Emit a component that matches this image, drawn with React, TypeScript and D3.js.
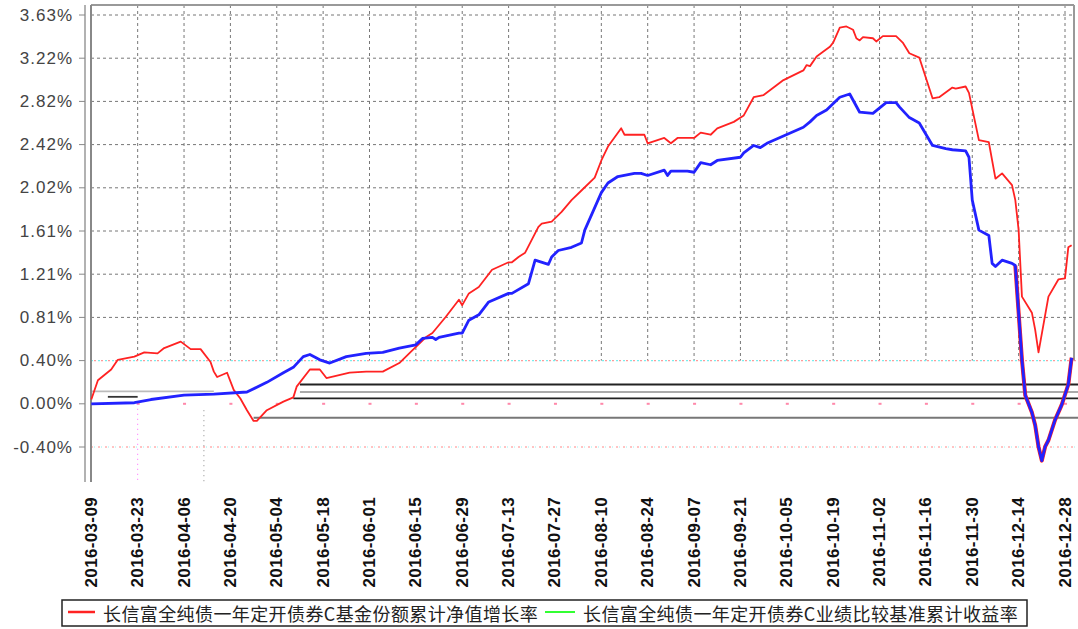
import React from "react";
import * as d3 from "d3";

// fund cumulative NAV growth (red) and benchmark (blue), in %
const redDates = [
  "2016-03-09", "2016-03-11", "2016-03-15", "2016-03-17", "2016-03-22", "2016-03-25", "2016-03-29", "2016-03-31",
  "2016-04-05", "2016-04-08", "2016-04-11", "2016-04-14", "2016-04-15", "2016-04-16", "2016-04-19", "2016-04-21",
  "2016-04-23", "2016-04-25", "2016-04-27", "2016-04-28", "2016-05-01", "2016-05-06", "2016-05-09", "2016-05-10",
  "2016-05-14", "2016-05-17", "2016-05-19", "2016-05-26", "2016-05-31", "2016-06-05", "2016-06-10", "2016-06-14",
  "2016-06-18", "2016-06-20", "2016-06-24", "2016-06-28", "2016-06-29", "2016-07-01", "2016-07-04", "2016-07-08",
  "2016-07-13", "2016-07-14", "2016-07-16", "2016-07-18", "2016-07-22", "2016-07-23", "2016-07-26", "2016-07-29",
  "2016-08-01", "2016-08-04", "2016-08-08", "2016-08-10", "2016-08-12", "2016-08-16", "2016-08-17", "2016-08-23",
  "2016-08-24", "2016-08-29", "2016-08-31", "2016-09-02", "2016-09-07", "2016-09-09", "2016-09-12", "2016-09-14",
  "2016-09-19", "2016-09-22", "2016-09-25", "2016-09-28", "2016-10-04", "2016-10-10", "2016-10-11", "2016-10-12",
  "2016-10-14", "2016-10-18", "2016-10-19", "2016-10-21", "2016-10-23", "2016-10-25", "2016-10-26", "2016-10-27",
  "2016-10-28", "2016-10-31", "2016-11-01", "2016-11-03", "2016-11-07", "2016-11-09", "2016-11-11", "2016-11-14",
  "2016-11-18", "2016-11-20", "2016-11-24", "2016-11-25", "2016-11-28", "2016-11-29", "2016-12-02", "2016-12-05",
  "2016-12-07", "2016-12-09", "2016-12-12", "2016-12-13", "2016-12-14", "2016-12-15", "2016-12-18", "2016-12-19",
  "2016-12-20", "2016-12-23", "2016-12-26", "2016-12-28", "2016-12-29", "2016-12-30",
];
const redValues = [
  0.04, 0.22, 0.32, 0.41, 0.44, 0.48, 0.47, 0.52,
  0.58, 0.51, 0.51, 0.39, 0.3, 0.25, 0.29, 0.13,
  0.05, -0.06, -0.16, -0.16, -0.06, 0.02, 0.06, 0.16,
  0.32, 0.32, 0.24, 0.29, 0.3, 0.3, 0.38, 0.5,
  0.62, 0.66, 0.81, 0.97, 0.92, 1.03, 1.09, 1.25,
  1.32, 1.32, 1.37, 1.41, 1.65, 1.68, 1.7, 1.79,
  1.9, 1.99, 2.11, 2.27, 2.4, 2.57, 2.51, 2.51,
  2.43, 2.48, 2.43, 2.48, 2.48, 2.53, 2.51, 2.57,
  2.63, 2.69, 2.86, 2.88, 3.02, 3.11, 3.16, 3.15,
  3.24, 3.33, 3.37, 3.51, 3.52, 3.49, 3.41, 3.39,
  3.42, 3.41, 3.38, 3.43, 3.43, 3.37, 3.27, 3.23,
  2.85, 2.86, 2.95, 2.94, 2.96, 2.9, 2.46, 2.44,
  2.1, 2.15, 2.04, 1.9, 1.62, 1.0, 0.85, 0.69,
  0.48, 1.0, 1.16, 1.17, 1.46, 1.48,
];

const blueDates = [
  "2016-03-09", "2016-03-22", "2016-03-27", "2016-04-06", "2016-04-15", "2016-04-25", "2016-05-01", "2016-05-06",
  "2016-05-09", "2016-05-12", "2016-05-14", "2016-05-17", "2016-05-20", "2016-05-25", "2016-05-31", "2016-06-05",
  "2016-06-10", "2016-06-15", "2016-06-17", "2016-06-20", "2016-06-21", "2016-06-22", "2016-06-28", "2016-06-29",
  "2016-07-01", "2016-07-04", "2016-07-07", "2016-07-13", "2016-07-14", "2016-07-19", "2016-07-21", "2016-07-25",
  "2016-07-26", "2016-07-28", "2016-08-01", "2016-08-04", "2016-08-05", "2016-08-10", "2016-08-12", "2016-08-15",
  "2016-08-20", "2016-08-22", "2016-08-24", "2016-08-29", "2016-08-30", "2016-08-31", "2016-09-05", "2016-09-07",
  "2016-09-09", "2016-09-12", "2016-09-14", "2016-09-21", "2016-09-22", "2016-09-25", "2016-09-27", "2016-09-29",
  "2016-10-10", "2016-10-12", "2016-10-14", "2016-10-17", "2016-10-21", "2016-10-24", "2016-10-27", "2016-10-31",
  "2016-11-04", "2016-11-07", "2016-11-08", "2016-11-11", "2016-11-14", "2016-11-18", "2016-11-22", "2016-11-24",
  "2016-11-28", "2016-11-29", "2016-11-30", "2016-12-02", "2016-12-05", "2016-12-06", "2016-12-07", "2016-12-09",
  "2016-12-12", "2016-12-13", "2016-12-15", "2016-12-16", "2016-12-18", "2016-12-19", "2016-12-20", "2016-12-21",
  "2016-12-22", "2016-12-23", "2016-12-25", "2016-12-27", "2016-12-29", "2016-12-30",
];
const blueValues = [
  0.0, 0.01, 0.04, 0.08, 0.09, 0.11, 0.2, 0.29,
  0.34, 0.44, 0.46, 0.41, 0.38, 0.44, 0.47, 0.48,
  0.52, 0.55, 0.61, 0.62, 0.6, 0.62, 0.66, 0.66,
  0.78, 0.83, 0.95, 1.03, 1.03, 1.12, 1.34, 1.3,
  1.37, 1.43, 1.46, 1.5, 1.62, 1.97, 2.06, 2.12,
  2.15, 2.15, 2.13, 2.18, 2.13, 2.17, 2.17, 2.16,
  2.25, 2.23, 2.27, 2.3, 2.34, 2.41, 2.39, 2.43,
  2.58, 2.63, 2.69, 2.74, 2.86, 2.89, 2.72, 2.71,
  2.81, 2.81, 2.77, 2.67, 2.62, 2.41, 2.38, 2.37,
  2.36, 2.3, 1.9, 1.62, 1.57, 1.31, 1.28, 1.34,
  1.31, 1.29, 0.41, 0.08, -0.08, -0.2, -0.4, -0.53,
  -0.4, -0.34, -0.15, -0.01, 0.18, 0.43,
];

const xTickLabels = [
  "2016-03-09", "2016-03-23", "2016-04-06", "2016-04-20", "2016-05-04", "2016-05-18", "2016-06-01",
  "2016-06-15", "2016-06-29", "2016-07-13", "2016-07-27", "2016-08-10", "2016-08-24", "2016-09-07",
  "2016-09-21", "2016-10-05", "2016-10-19", "2016-11-02", "2016-11-16", "2016-11-30", "2016-12-14", "2016-12-28",
];
const yTickValues = [-0.403, 0, 0.403, 0.806, 1.209, 1.612, 2.015, 2.418, 2.821, 3.224, 3.627];
const yTickLabels = ["-0.40%", "0.00%", "0.40%", "0.81%", "1.21%", "1.61%", "2.02%", "2.42%", "2.82%", "3.22%", "3.63%"];

// stray horizontal levels left over in the picture
const levelValues = [0.18, 0.11, 0.05, -0.13, 0.115, 0.065];
const levelStarts = ["2016-05-11", "2016-05-11", "2016-05-09", "2016-04-27", "2016-03-09", "2016-03-14"];
const levelEnds = ["2016-12-31", "2016-12-31", "2016-12-31", "2016-12-31", "2016-04-15", "2016-03-23"];
const levelColors = ["#222", "#aaa", "#222", "#777", "#bbb", "#333"];

const legendLabels = [
  "长信富全纯债一年定开债券C基金份额累计净值增长率",
  "长信富全纯债一年定开债券C业绩比较基准累计收益率",
];

const parse = d3.utcParse("%Y-%m-%d");
const W = 1078;
const H = 629;
const plotLeft = 91;
const plotRight = 1074;
const plotTop = 5;
const axisBottom = 482;

export default function App() {
  const x = d3
    .scaleUtc()
    .domain([parse("2016-03-09")!, parse("2016-12-28")!])
    .range([91.3, 1065]);
  const y = d3.scaleLinear().domain([-0.403, 3.627]).range([447, 15]);

  const red = redDates.map((d, i) => ({ date: parse(d)!, v: redValues[i] }));
  const blue = blueDates.map((d, i) => ({ date: parse(d)!, v: blueValues[i] }));
  const dip = blue.filter((p) => p.date >= parse("2016-12-13")!);

  const line = d3
    .line<{ date: Date; v: number }>()
    .x((d) => x(d.date))
    .y((d) => y(d.v));

  const y040 = y(0.403);
  const font = "'Liberation Sans', Arial, sans-serif";

  return (
    <svg
      width={W}
      height={H}
      style={{ position: "fixed", left: 0, top: 0, background: "#fff" }}
    >
      {/* vertical grid */}
      {xTickLabels.slice(1).map((t) => (
        <line
          key={t}
          x1={x(parse(t)!)}
          x2={x(parse(t)!)}
          y1={plotTop}
          y2={y040}
          stroke="#777"
          strokeWidth={1}
          strokeDasharray="3,3"
        />
      ))}
      {/* horizontal grid */}
      {yTickValues
        .filter((v) => v > 0.5)
        .map((v) => (
          <line
            key={v}
            x1={plotLeft}
            x2={plotRight}
            y1={y(v)}
            y2={y(v)}
            stroke="#777"
            strokeWidth={1}
            strokeDasharray="3,3"
          />
        ))}
      <line x1={plotLeft} x2={W} y1={y040} y2={y040} stroke="#7ee" strokeWidth={1.2} strokeDasharray="2,5" />
      <line x1={plotLeft + 3} x2={W} y1={y040} y2={y040} stroke="#f99" strokeWidth={1.2} strokeDasharray="2,5" />
      <line x1={plotLeft} x2={W} y1={y(-0.403)} y2={y(-0.403)} stroke="#f88" strokeWidth={1.2} strokeDasharray="2,5" />
      <line x1={plotLeft + 3} x2={W} y1={y(-0.403)} y2={y(-0.403)} stroke="#9ee" strokeWidth={1} strokeDasharray="1,6" />
      {xTickLabels.slice(1).map((t) => (
        <rect key={t} x={x(parse(t)!) - 1} y={y(0) - 1} width={3} height={2} fill="#f8a" />
      ))}
      <line
        x1={x(parse("2016-03-23")!)}
        x2={x(parse("2016-03-23")!)}
        y1={y(0)}
        y2={axisBottom}
        stroke="#f6f"
        strokeWidth={1}
        strokeDasharray="1,4"
      />
      <line
        x1={x(parse("2016-04-12")!)}
        x2={x(parse("2016-04-12")!)}
        y1={y(-0.06)}
        y2={axisBottom}
        stroke="#888"
        strokeWidth={1}
        strokeDasharray="1,4"
      />

      {/* stray levels */}
      {levelValues.map((v, i) => (
        <line
          key={i}
          x1={x(parse(levelStarts[i])!)}
          x2={i < 4 ? W : x(parse(levelEnds[i])!)}
          y1={y(v)}
          y2={y(v)}
          stroke={levelColors[i]}
          strokeWidth={1.8}
        />
      ))}

      {/* frame */}
      <line x1={plotLeft} x2={plotRight} y1={plotTop} y2={plotTop} stroke="#999" strokeWidth={2} />
      <line x1={plotRight} x2={plotRight} y1={plotTop} y2={y040} stroke="#999" strokeWidth={2} />
      <line x1={85} x2={85} y1={plotTop} y2={axisBottom} stroke="#999" strokeWidth={1.5} />
      <line x1={plotLeft} x2={plotLeft} y1={plotTop} y2={axisBottom} stroke="#888" strokeWidth={2} />

      {/* y axis */}
      {yTickValues.map((v, i) => (
        <g key={v}>
          <line x1={79} x2={85} y1={y(v)} y2={y(v)} stroke="#888" strokeWidth={1} />
          <text
            x={73}
            y={y(v)}
            textAnchor="end"
            dominantBaseline="central"
            fontFamily={font}
            fontSize={17}
            letterSpacing={1}
            fill="#444"
          >
            {yTickLabels[i]}
          </text>
        </g>
      ))}

      {/* series */}
      <path d={line(red)!} fill="none" stroke="#f22" strokeWidth={1.8} strokeLinejoin="round" />
      <path d={line(dip)!} fill="none" stroke="#f22" strokeWidth={4} strokeLinejoin="round" />
      <path d={line(blue)!} fill="none" stroke="#22f" strokeWidth={2.8} strokeLinejoin="round" />

      {/* x labels */}
      {xTickLabels.map((t) => (
        <text
          key={t}
          transform={`translate(${x(parse(t)!)},497) rotate(-90)`}
          textAnchor="end"
          dominantBaseline="central"
          fontFamily={font}
          fontWeight="bold"
          fontSize={17}
          letterSpacing={0.35}
          fill="#111"
        >
          {t}
        </text>
      ))}

      {/* legend */}
      <rect x={62} y={600} width={965} height={26} fill="#fff" stroke="#222" strokeWidth={1.5} />
      <line x1={68} x2={95} y1={612} y2={612} stroke="#f22" strokeWidth={2.5} />
      <text x={103} y={613} dominantBaseline="central" fontFamily="'Noto Sans CJK SC'" fontSize={18} letterSpacing={0.4} fill="#222">
        {legendLabels[0]}
      </text>
      <line x1={545} x2={575} y1={612} y2={612} stroke="#3f3" strokeWidth={2} />
      <text x={583} y={613} dominantBaseline="central" fontFamily="'Noto Sans CJK SC'" fontSize={18} letterSpacing={0.4} fill="#222">
        {legendLabels[1]}
      </text>
    </svg>
  );
}
